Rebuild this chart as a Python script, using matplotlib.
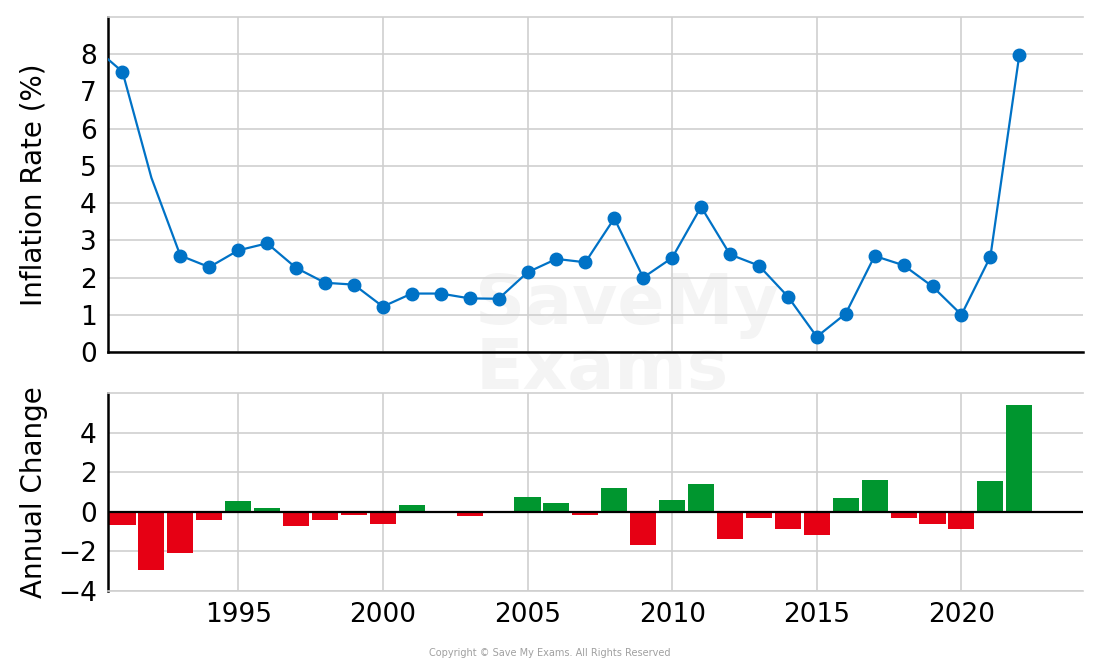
import matplotlib
matplotlib.use('Agg')
import matplotlib.pyplot as plt
import numpy as np

# inflation rate (%), 1990-2022
years = list(range(1990, 2023))
inflation = [8.2, 7.53, 4.68, 2.59, 2.28, 2.73, 2.92, 2.26, 1.86, 1.81,
             1.22, 1.57, 1.57, 1.44, 1.43, 2.14, 2.50, 2.41, 3.59, 2.00,
             2.53, 3.90, 2.62, 2.32, 1.49, 0.41, 1.03, 2.58, 2.33, 1.76,
             1.00, 2.56, 7.98]
# annual change, 1991-2022
change_years = list(range(1991, 2023))
annual_change = [-0.68, -2.96, -2.08, -0.42, 0.56, 0.20, -0.73, -0.42, -0.15,
                 -0.61, 0.34, 0.0, -0.20, 0.0, 0.74, 0.44, -0.14, 1.20,
                 -1.68, 0.59, 1.40, -1.37, -0.30, -0.86, -1.17, 0.68, 1.61,
                 -0.30, -0.61, -0.86, 1.56, 5.41]
x_ticks = [1995, 2000, 2005, 2010, 2015, 2020]
top_yticks = [0, 1, 2, 3, 4, 5, 6, 7, 8]
bottom_yticks = [-4, -2, 0, 2, 4]

BLUE = '#0072c6'
GREEN = '#00962f'
RED = '#e60014'
GRID = '#cfcfcf'


def main():
    plt.rcParams['font.family'] = ['DejaVu Sans']
    fig = plt.figure(figsize=(11, 6.65), dpi=100)
    ax1 = fig.add_axes([0.0982, 0.4707, 0.8863, 0.5037])
    ax2 = fig.add_axes([0.0982, 0.1113, 0.8863, 0.2977])

    # watermark behind the axes
    fig.text(0.432, 0.492, 'SaveMy\nExams', fontsize=50, fontweight='bold',
             color='#f4f4f4', ha='left', va='center', linespacing=0.95,
             zorder=-5)

    yrs = np.array(years)
    vals = np.array(inflation)

    # top panel: inflation line
    marks = [i for i in range(len(years)) if years[i] not in (1990, 1992)]
    ax1.plot(yrs, vals, color=BLUE, lw=1.6, marker='o', ms=9,
             markevery=marks, zorder=3)
    ax1.set_xlim(1990.5, 2024.2)
    ax1.set_ylim(0, 9)
    ax1.set_yticks(top_yticks)
    ax1.set_xticks(x_ticks)
    ax1.tick_params(labelbottom=False, length=0, labelsize=19, pad=8)
    ax1.set_ylabel('Inflation Rate (%)', fontsize=20)

    # bottom panel: annual change bars
    colors = [GREEN if c > 0 else RED for c in annual_change]
    ax2.bar(change_years, annual_change, width=0.9, color=colors, zorder=2)
    ax2.axhline(0, color='black', lw=1.6, zorder=3)
    ax2.set_xlim(1990.5, 2024.2)
    ax2.set_ylim(-4, 6)
    ax2.set_yticks(bottom_yticks)
    ax2.set_yticklabels(['\u22124', '\u22122', '0', '2', '4'])
    ax2.set_xticks(x_ticks)
    ax2.tick_params(length=0, labelsize=19, pad=8)
    ax2.set_ylabel('Annual Change', fontsize=20)

    for ax in (ax1, ax2):
        ax.set_facecolor('none')
        ax.grid(True, color=GRID, lw=1.2, zorder=0)
        ax.set_axisbelow(True)
        ax.spines['right'].set_visible(False)
        ax.spines['top'].set_color(GRID)
        ax.spines['top'].set_linewidth(1.2)
        ax.spines['left'].set_linewidth(1.8)
    ax1.spines['bottom'].set_linewidth(1.8)
    ax2.spines['bottom'].set_color(GRID)
    ax2.spines['bottom'].set_linewidth(1.2)
    ax1.yaxis.set_label_coords(-0.062, 0.5)
    ax2.yaxis.set_label_coords(-0.062, 0.5)

    fig.text(0.5, 0.018, 'Copyright \u00a9 Save My Exams. All Rights Reserved',
             fontsize=7, color='#a0a0a0', ha='center', va='center')

    fig.savefig('out.png', dpi=100)


if __name__ == '__main__':
    main()
